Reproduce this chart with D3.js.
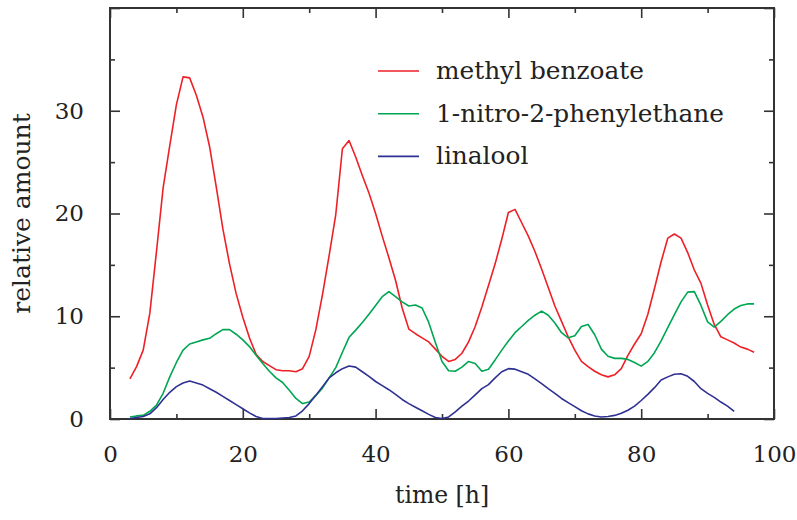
<!DOCTYPE html>
<html>
<head>
    <meta charset='utf-8'>
    <title>relative amount</title>
    <script src='https://cdn.jsdelivr.net/npm/d3@7'></script>
    <style>
        body { margin: 0; background: #fff; }
    </style>
</head>
<body>
    <svg width='797' height='520'></svg>
    <script>
        // data (hourly samples)
        const hours = d3.range(3, 98)
        const methylBenzoate = [
            3.9, 5.1, 6.7, 10.3, 16.3, 22.5, 26.6, 30.6, 33.3, 33.2,
            31.5, 29.4, 26.5, 22.6, 18.5, 15.1, 12.2, 9.9, 7.9, 6.3,
            5.6, 5.2, 4.8, 4.7, 4.7, 4.6, 4.9, 6.1, 8.7, 12.1,
            15.9, 19.9, 26.3, 27.1, 25.5, 23.7, 22.0, 20.0, 17.8, 15.7,
            13.5, 10.8, 8.75, 8.3, 7.9, 7.5, 6.8, 6.1, 5.6, 5.8,
            6.4, 7.5, 9.0, 10.9, 13.0, 15.1, 17.5, 20.1, 20.4, 19.1,
            17.8, 16.3, 14.6, 12.8, 11.0, 9.5, 8.0, 6.7, 5.6, 5.1,
            4.65, 4.3, 4.1, 4.3, 4.9, 6.2, 7.3, 8.3, 10.2, 12.7,
            15.3, 17.6, 18.0, 17.6, 16.2, 14.5, 13.2, 11.1, 9.2, 8.0,
            7.7, 7.4, 7.0, 6.8, 6.5
        ]
        const nitroPhenylethane = [
            0.2, 0.3, 0.35, 0.75, 1.35, 2.5, 4.1, 5.5, 6.7, 7.3,
            7.5, 7.7, 7.85, 8.3, 8.7, 8.7, 8.25, 7.7, 7.05, 6.2,
            5.4, 4.65, 4.0, 3.55, 2.8, 2.0, 1.5, 1.65, 2.3, 3.0,
            4.0, 5.0, 6.5, 7.95, 8.65, 9.4, 10.2, 11.05, 11.9, 12.4,
            11.9, 11.4, 11.0, 11.1, 10.8, 9.4, 7.45, 5.6, 4.7, 4.65,
            5.05, 5.6, 5.4, 4.65, 4.85, 5.75, 6.7, 7.6, 8.4, 9.0,
            9.6, 10.1, 10.5, 10.1, 9.35, 8.4, 7.9, 8.1, 9.0, 9.2,
            8.2, 6.8, 6.1, 5.9, 5.9, 5.8, 5.5, 5.15, 5.6, 6.45,
            7.6, 8.9, 10.15, 11.4, 12.35, 12.4, 11.05, 9.45, 8.95, 9.5,
            10.15, 10.7, 11.05, 11.2, 11.2
        ]
        const linalool = [
            0.05, 0.15, 0.25, 0.5, 1.1, 1.9, 2.6, 3.15, 3.5, 3.7,
            3.5, 3.3, 2.95, 2.6, 2.2, 1.8, 1.4, 1.0, 0.6, 0.25,
            0.05, 0.05, 0.05, 0.1, 0.15, 0.3, 0.8, 1.5, 2.3, 3.15,
            4.0, 4.5, 4.9, 5.15, 5.05, 4.6, 4.15, 3.65, 3.25, 2.85,
            2.4, 1.9, 1.5, 1.15, 0.8, 0.45, 0.15, 0.05, 0.2, 0.7,
            1.25, 1.75, 2.35, 2.95, 3.35, 4.0, 4.6, 4.9, 4.85, 4.6,
            4.35, 3.9, 3.45, 2.95, 2.5, 2.0, 1.6, 1.2, 0.8, 0.5,
            0.3, 0.2, 0.25, 0.35, 0.55, 0.85, 1.25, 1.8, 2.4, 3.05,
            3.8, 4.1, 4.35, 4.4, 4.15, 3.65, 2.95, 2.5, 2.1, 1.65,
            1.25, 0.75, null, null, null
        ]
        const seriesNames = ['methyl benzoate', '1-nitro-2-phenylethane', 'linalool']
        const seriesColors = ['#ee2027', '#00a651', '#2e3192']
        const xMajor = [0, 20, 40, 60, 80, 100]
        const xMinor = [10, 30, 50, 70, 90]
        const yMajor = [0, 10, 20, 30, 40]
        const yLabels = [0, 10, 20, 30]
        const yMinor = [5, 15, 25, 35]

        const serif = 'DejaVu Serif'
        const svg = d3.select('svg')
        const plot = { left: 110, right: 774, top: 8, bottom: 419 }

        const x = d3.scaleLinear([0, 100], [plot.left, plot.right])
        const y = d3.scaleLinear([0, 40], [plot.bottom, plot.top])

        // tick marks point inward on all four sides
        svg.append('g').attr('transform', `translate(0,${plot.bottom})`)
            .call(d3.axisBottom(x).tickValues(xMajor).tickSize(-10).tickPadding(27)
                .tickFormat(d3.format('d')))
        svg.append('g').attr('transform', `translate(0,${plot.bottom})`)
            .call(d3.axisBottom(x).tickValues(xMinor).tickSize(-5).tickFormat(''))
        svg.append('g').attr('transform', `translate(0,${plot.top})`)
            .call(d3.axisTop(x).tickValues(xMajor).tickSize(-10).tickFormat(''))
        svg.append('g').attr('transform', `translate(0,${plot.top})`)
            .call(d3.axisTop(x).tickValues(xMinor).tickSize(-5).tickFormat(''))
        svg.append('g').attr('transform', `translate(${plot.left},0)`)
            .call(d3.axisLeft(y).tickValues(yMajor).tickSize(-10).tickPadding(26)
                .tickFormat(d => yLabels.includes(d) ? d : ''))
        svg.append('g').attr('transform', `translate(${plot.left},0)`)
            .call(d3.axisLeft(y).tickValues(yMinor).tickSize(-5).tickFormat(''))
        svg.append('g').attr('transform', `translate(${plot.right},0)`)
            .call(d3.axisRight(y).tickValues(yMajor).tickSize(-10).tickFormat(''))
        svg.append('g').attr('transform', `translate(${plot.right},0)`)
            .call(d3.axisRight(y).tickValues(yMinor).tickSize(-5).tickFormat(''))

        svg.selectAll('.domain').remove()
        svg.selectAll('.tick line').attr('stroke', '#333').attr('stroke-width', 1.6)
        svg.selectAll('.tick text')
            .attr('font-family', serif).attr('font-size', 23).attr('fill', '#222')

        // frame
        svg.append('rect')
            .attr('x', plot.left).attr('y', plot.top)
            .attr('width', plot.right - plot.left).attr('height', plot.bottom - plot.top)
            .attr('fill', 'none').attr('stroke', '#333').attr('stroke-width', 2)

        // curves
        const allSeries = [methylBenzoate, nitroPhenylethane, linalool]
        const line = d3.line()
            .defined(d => d[1] != null)
            .x(d => x(d[0]))
            .y(d => y(d[1]))

        allSeries.forEach((values, i) => {
            svg.append('path')
                .datum(d3.zip(hours, values))
                .attr('fill', 'none')
                .attr('stroke', seriesColors[i])
                .attr('stroke-width', 1.6)
                .attr('stroke-linejoin', 'round')
                .attr('d', line)
        })

        // legend
        const legend = svg.append('g').attr('transform', 'translate(378,71)')
        seriesNames.forEach((name, i) => {
            const row = legend.append('g').attr('transform', `translate(0,${i * 42.7})`)
            row.append('line').attr('x1', 0).attr('x2', 41)
                .attr('stroke', seriesColors[i]).attr('stroke-width', 1.6)
            row.append('text').attr('x', 58).attr('y', 8)
                .attr('font-family', serif).attr('font-size', 24.8).attr('fill', '#222')
                .text(name)
        })

        // axis titles
        svg.append('text')
            .attr('x', (plot.left + plot.right) / 2).attr('y', 503)
            .attr('text-anchor', 'middle')
            .attr('font-family', serif).attr('font-size', 23.5).attr('fill', '#222')
            .text('time [h]')
        svg.append('text')
            .attr('transform', `translate(30,${(plot.top + plot.bottom) / 2}) rotate(-90)`)
            .attr('text-anchor', 'middle')
            .attr('font-family', serif).attr('font-size', 25).attr('fill', '#222')
            .text('relative amount')
    </script>
</body>
</html>
